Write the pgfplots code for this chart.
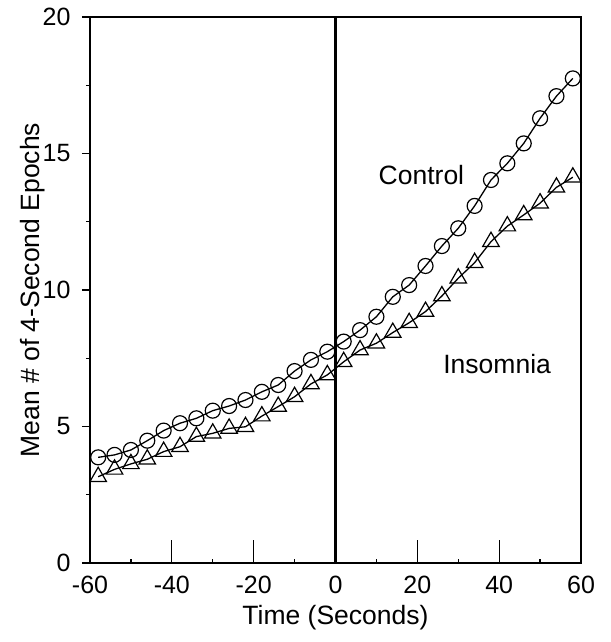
\documentclass[border=0pt]{standalone}
\usepackage{fontspec}
\setmainfont{Liberation Sans}
\usepackage{pgfplots}
\pgfplotsset{compat=1.18}
\usepackage{pgfplotstable}

\pgfplotstableread{
t     control insomnia
-58   3.87    3.16
-54   3.96    3.43
-50   4.14    3.63
-46   4.48    3.80
-42   4.85    4.08
-38   5.12    4.26
-34   5.30    4.63
-30   5.58    4.75
-26   5.75    4.93
-22   5.97    4.99
-18   6.27    5.38
-14   6.52    5.73
-10   7.03    6.09
-6    7.44    6.56
-2    7.74    6.89
2     8.11    7.37
6     8.53    7.80
10    9.02    8.05
14    9.75    8.44
18    10.18   8.80
22    10.88   9.21
26    11.61   9.78
30    12.26   10.43
34    13.08   11.00
38    14.03   11.77
42    14.64   12.34
46    15.37   12.75
50    16.29   13.18
54    17.10   13.76
58    17.75   14.13
}\epochs

\begin{document}
\begin{tikzpicture}
\begin{axis}[
    scale only axis,
    width=491pt, height=546pt,
    xmin=-60, xmax=60, ymin=0, ymax=20,
    xtick={-60,-40,...,60},
    xticklabels={-60,-40,-20,0,20,40,60},
    ytick={0,5,...,20},
    yticklabels={0,5,10,15,20},
    minor x tick num=1,
    minor y tick num=1,
    tick pos=left,
    tick align=inside,
    major tick length=8pt,
    minor tick length=4pt,
    major y tick style={xshift=-8pt},
    minor y tick style={xshift=-4pt},
    extra x ticks={-40,-20,0,20,40},
    extra x tick labels={},
    extra x tick style={major tick length=23pt},
    every tick/.style={black, line width=1.3pt},
    axis line style={line width=1.7pt},
    tick label style={font=\fontsize{25}{25}\selectfont},
    yticklabel style={xshift=-16pt},
    xticklabel style={yshift=-10pt},
    label style={font=\fontsize{26.5}{26.5}\selectfont},
    xlabel={Time (Seconds)},
    ylabel={Mean \# of 4-Second Epochs},
    xlabel style={yshift=-4pt},
    ylabel style={yshift=-9pt},
    clip=false,
]
\addplot[black, line width=3pt] coordinates {(0,0) (0,20)};
\addplot[black, line width=1.3pt, mark=triangle, mark size=9.5pt,
    mark options={fill=white, line width=1.2pt}] table[x=t, y=insomnia] {\epochs};
\addplot[black, line width=1.3pt, mark=o, mark size=7.5pt,
    mark options={fill=white, line width=1.2pt}] table[x=t, y=control] {\epochs};
\node[font=\fontsize{26.5}{26.5}\selectfont] at (axis cs:21,14.2) {Control};
\node[font=\fontsize{26.5}{26.5}\selectfont] at (axis cs:39.5,7.3) {Insomnia};
\end{axis}
\path ([shift={(-90pt,-79pt)}]current axis.south west) rectangle ([shift={(30pt,17pt)}]current axis.north east);
\end{tikzpicture}
\end{document}
